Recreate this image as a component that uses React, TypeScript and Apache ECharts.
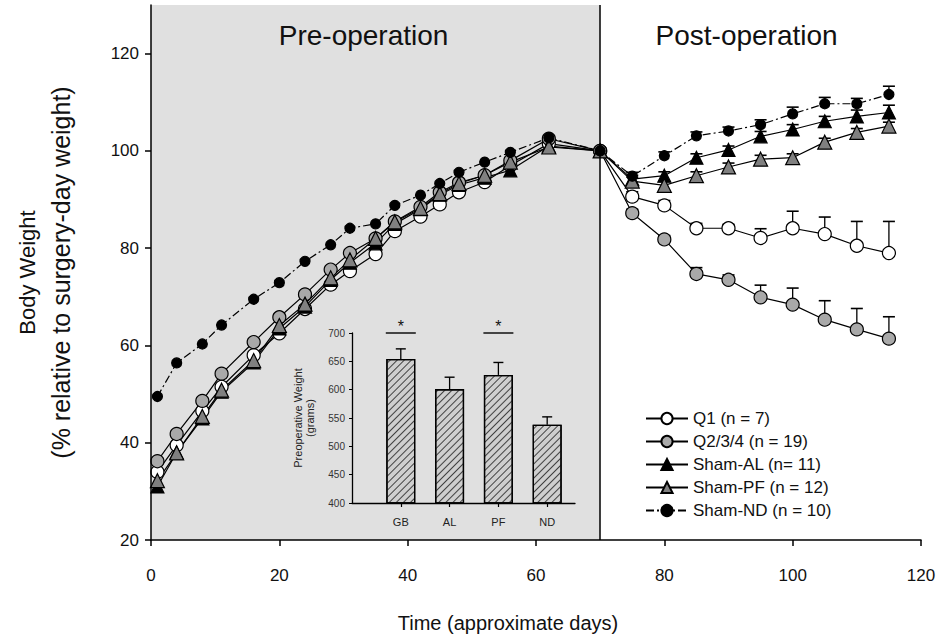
import React, { useEffect, useRef } from "react";
import * as echarts from "echarts";

// ---------- data ----------
const days = [1, 4, 8, 11, 16, 20, 24, 28, 31, 35, 38, 42, 45, 48, 52, 56, 62, 70, 75, 80, 85, 90, 95, 100, 105, 110, 115];
const q1 = [34, 39.5, 46.5, 51.5, 58, 62.5, 67.5, 72.5, 75.3, 78.8, 83.5, 86.5, 89, 91.5, 93.6, 97, 101.5, 100, 90.6, 88.8, 84.1, 84.1, 82.1, 84.1, 82.9, 80.5, 79.0];
const q2 = [36.2, 41.8, 48.6, 54.2, 60.7, 65.8, 70.5, 75.6, 79, 82, 85.5, 88.5, 91.5, 93.5, 95, 98, 102.5, 100, 87.2, 81.8, 74.7, 73.5, 69.9, 68.4, 65.3, 63.3, 61.4];
const shamAL = [31, 38, 45, 50.5, 56.5, 63.5, 68, 73.5, 77, 81, 85, 88, 91, 93, 94.5, 96, 101, 100, 94.2, 94.9, 98.6, 100.2, 103, 104.4, 106.1, 107.1, 107.9];
const shamPF = [32.2, 37.9, 45.4, 50.8, 56.9, 64.1, 68.5, 73.9, 77.6, 82, 85.4, 88.2, 91.2, 93.3, 95, 97.7, 100.8, 100, 93.8, 92.9, 94.9, 96.7, 98.3, 98.6, 101.8, 103.8, 105.1];
const shamND = [49.5, 56.4, 60.3, 64.2, 69.5, 72.9, 77.3, 80.7, 84.1, 85, 88.8, 90.9, 93.3, 95.6, 97.7, 99.7, 102.7, 100, 94.8, 99.0, 103.1, 104.1, 105.4, 107.6, 109.7, 109.7, 111.6];

// post-operation SEM (upper error only)
const postDays = [75, 80, 85, 90, 95, 100, 105, 110, 115];
const q1Err = [1, 1, 1, 0.8, 1.9, 3.5, 3.5, 5, 6.5];
const q2Err = [0.8, 0.8, 1.3, 1, 2.5, 3.4, 3.9, 4.3, 4.5];
const alErr = [0.8, 0.8, 0.8, 0.8, 1, 1, 1, 1.3, 1.5];
const pfErr = [0.8, 0.8, 0.8, 0.8, 0.8, 0.8, 0.8, 0.8, 0.8];
const ndErr = [0.8, 0.8, 0.8, 0.8, 1.0, 1.4, 1.3, 1.1, 1.7];

const seriesNames = ["Q1 (n = 7)", "Q2/3/4 (n = 19)", "Sham-AL (n= 11)", "Sham-PF (n = 12)", "Sham-ND (n = 10)"];

const xTicks = [0, 20, 40, 60, 80, 100, 120];
const yTicks = [20, 40, 60, 80, 100, 120];

// inset
const insetCats = ["GB", "AL", "PF", "ND"];
const insetValues = [654, 601, 626, 538];
const insetErr = [18, 21, 22, 14];
const insetSig = [1, 3]; // category positions with significance bar
const insetSigLevel = 700;
const insetTicks = [400, 450, 500, 550, 600, 650, 700];

const FONT = "'Liberation Sans', Arial, sans-serif";

function errData(values: number[], errs: number[]) {
  return postDays.map((d, i) => {
    const idx = days.indexOf(d);
    return [d, values[idx], values[idx] + errs[i]];
  });
}

function errorBarSeries(values: number[], errs: number[]) {
  return {
    type: "custom",
    xAxisIndex: 0,
    yAxisIndex: 0,
    z: 2,
    silent: true,
    encode: { x: 0, y: [1, 2] },
    data: errData(values, errs),
    renderItem: (_p: any, api: any) => {
      const x = api.value(0);
      const p0 = api.coord([x, api.value(1)]);
      const p1 = api.coord([x, api.value(2)]);
      const hw = 6;
      return {
        type: "group",
        children: [
          { type: "line", shape: { x1: p0[0], y1: p0[1], x2: p1[0], y2: p1[1] }, style: { stroke: "#000", lineWidth: 1.3 } },
          { type: "line", shape: { x1: p1[0] - hw, y1: p1[1], x2: p1[0] + hw, y2: p1[1] }, style: { stroke: "#000", lineWidth: 1.6 } },
        ],
      };
    },
  };
}

function lineSeries(name: string, values: number[], symbol: string, size: number, fill: string, dashed?: any) {
  return {
    name,
    type: "line",
    xAxisIndex: 0,
    yAxisIndex: 0,
    z: 3,
    data: days.map((d, i) => [d, values[i]]),
    symbol,
    symbolSize: size,
    showAllSymbol: true,
    itemStyle: { color: fill, borderColor: "#000", borderWidth: 1.2 },
    lineStyle: { color: "#000", width: 1.2, type: dashed || "solid" },
  };
}

export default function App() {
  const ref = useRef<HTMLDivElement>(null);
  useEffect(() => {
    document.body.style.margin = "0";
    const chart = echarts.init(ref.current!, null, { renderer: "svg" });
    const option: any = {
      animation: false,
      backgroundColor: "#fff",
      textStyle: { fontFamily: FONT },
      grid: [
        { left: 151, right: 30, top: 5, bottom: 95 },
        { left: 352, top: 333, width: 223, height: 170 },
      ],
      legend: {
        data: seriesNames,
        orient: "vertical",
        left: 640,
        top: 405,
        itemWidth: 42,
        itemHeight: 14,
        itemGap: 6,
        textStyle: { fontSize: 17, color: "#111", fontFamily: FONT },
        inactiveColor: "#999",
      },
      xAxis: [
        {
          type: "value",
          gridIndex: 0,
          z: 6,
          min: 0,
          max: 120,
          interval: 20,
          name: "Time (approximate days)",
          nameLocation: "middle",
          nameGap: 73,
          nameTextStyle: { fontSize: 20, color: "#111", fontFamily: FONT, padding: [0, 56, 0, 0] },
          axisLine: { show: true, onZero: false, lineStyle: { color: "#000", width: 1.5 } },
          axisTick: { show: true, length: 6, lineStyle: { color: "#000", width: 1.5 } },
          axisLabel: { fontSize: 17, color: "#111", margin: 27, customValues: xTicks },
          splitLine: { show: false },
        },
        {
          type: "value",
          gridIndex: 1,
          z: 6,
          min: 0,
          max: 4.57,
          interval: 1,
          axisLine: { show: true, onZero: false, lineStyle: { color: "#000", width: 1.3 } },
          axisTick: { show: true, length: 4, lineStyle: { color: "#000", width: 1.2 }, customValues: [1, 2, 3, 4] },
          axisLabel: {
            fontSize: 11,
            color: "#222",
            margin: 13,
            customValues: [1, 2, 3, 4],
            formatter: (v: number) => insetCats[Math.round(v) - 1] || "",
          },
          splitLine: { show: false },
        },
      ],
      yAxis: [
        {
          type: "value",
          gridIndex: 0,
          z: 6,
          min: 20,
          max: 130,
          interval: 20,
          name: "{a|Body Weight}\n{b|(% relative to surgery-day weight)}",
          nameLocation: "middle",
          nameRotate: 90,
          nameGap: 73,
          nameTextStyle: {
            color: "#111",
            fontFamily: FONT,
            rich: {
              a: { fontSize: 22, lineHeight: 34, color: "#111", fontFamily: FONT },
              b: { fontSize: 25, lineHeight: 34, color: "#111", fontFamily: FONT },
            },
          },
          axisLine: { show: true, onZero: false, lineStyle: { color: "#000", width: 1.5 } },
          axisTick: { show: true, length: 6, lineStyle: { color: "#000", width: 1.5 }, customValues: yTicks },
          axisLabel: { fontSize: 17, color: "#111", margin: 12, customValues: yTicks },
          splitLine: { show: false },
        },
        {
          type: "value",
          gridIndex: 1,
          z: 6,
          min: 400,
          max: 700,
          interval: 50,
          name: "Preoperative Weight\n(grams)",
          nameLocation: "middle",
          nameRotate: 90,
          nameGap: 36,
          nameTextStyle: { fontSize: 11, lineHeight: 12, color: "#222", fontFamily: FONT },
          axisLine: { show: true, onZero: false, lineStyle: { color: "#000", width: 1.3 } },
          axisTick: { show: true, length: 3, lineStyle: { color: "#000", width: 1 } },
          axisLabel: { fontSize: 10, color: "#333", margin: 7, customValues: insetTicks },
          splitLine: { show: false },
        },
      ],
      series: [
        {
          type: "line",
          xAxisIndex: 0,
          yAxisIndex: 0,
          z: 1,
          data: [],
          silent: true,
          markArea: {
            silent: true,
            data: [
              [
                {
                  xAxis: 0,
                  yAxis: 20,
                  itemStyle: { color: "#e0e0e0" },
                  label: { show: true, formatter: "Pre-operation", position: "insideTop", distance: 16, offset: [-12, 0], fontSize: 28, color: "#111", fontFamily: FONT },
                },
                { xAxis: 70, yAxis: 130 },
              ],
              [
                {
                  xAxis: 70,
                  yAxis: 20,
                  itemStyle: { color: "rgba(255,255,255,0)" },
                  label: { show: true, formatter: "Post-operation", position: "insideTop", distance: 16, offset: [-14, 0], fontSize: 28, color: "#111", fontFamily: FONT },
                },
                { xAxis: 120, yAxis: 130 },
              ],
            ],
          },
          markLine: {
            silent: true,
            symbol: "none",
            label: { show: false },
            lineStyle: { color: "#000", width: 1.5, type: "solid" },
            data: [{ xAxis: 70 }],
          },
        },
        errorBarSeries(q1, q1Err),
        errorBarSeries(q2, q2Err),
        errorBarSeries(shamAL, alErr),
        errorBarSeries(shamPF, pfErr),
        errorBarSeries(shamND, ndErr),
        lineSeries(seriesNames[0], q1, "circle", 13, "#ffffff"),
        lineSeries(seriesNames[1], q2, "circle", 13, "#a9a9a9"),
        lineSeries(seriesNames[2], shamAL, "triangle", 13, "#000000"),
        lineSeries(seriesNames[3], shamPF, "triangle", 14, "#808080"),
        lineSeries(seriesNames[4], shamND, "circle", 10, "#000000", [8, 3, 2, 3]),
        // inset bars
        {
          type: "bar",
          xAxisIndex: 1,
          yAxisIndex: 1,
          z: 4,
          barWidth: 29,
          data: insetCats.map((_c, i) => [i + 1, insetValues[i]]),
          itemStyle: {
            color: "#cfcfcf",
            borderColor: "#000",
            borderWidth: 1.3,
            decal: {
              symbol: "rect",
              symbolSize: 1,
              color: "rgba(40,40,40,0.85)",
              dashArrayX: [1, 0],
              dashArrayY: [1, 4],
              rotation: -Math.PI / 4,
            },
          },
        },
        {
          type: "custom",
          xAxisIndex: 1,
          yAxisIndex: 1,
          z: 4,
          silent: true,
          encode: { x: 0, y: [1, 2] },
          data: insetCats.map((_c, i) => [i + 1, insetValues[i], insetValues[i] + insetErr[i]]),
          renderItem: (_p: any, api: any) => {
            const x = api.value(0);
            const p0 = api.coord([x, api.value(1)]);
            const p1 = api.coord([x, api.value(2)]);
            const hw = 5;
            return {
              type: "group",
              children: [
                { type: "line", shape: { x1: p0[0], y1: p0[1], x2: p1[0], y2: p1[1] }, style: { stroke: "#000", lineWidth: 1.3 } },
                { type: "line", shape: { x1: p1[0] - hw, y1: p1[1], x2: p1[0] + hw, y2: p1[1] }, style: { stroke: "#000", lineWidth: 1.4 } },
              ],
            };
          },
        },
        {
          type: "custom",
          xAxisIndex: 1,
          yAxisIndex: 1,
          z: 4,
          silent: true,
          data: insetSig.map((c) => [c, insetSigLevel]),
          renderItem: (_p: any, api: any) => {
            const p = api.coord([api.value(0), api.value(1)]);
            const hw = 15;
            return {
              type: "group",
              children: [
                { type: "line", shape: { x1: p[0] - hw, y1: p[1], x2: p[0] + hw, y2: p[1] }, style: { stroke: "#000", lineWidth: 1.4 } },
                { type: "text", x: p[0], y: p[1] + 1, style: { text: "*", fill: "#111", align: "center", verticalAlign: "bottom", font: "16px " + FONT } },
              ],
            };
          },
        },
      ],
    };
    chart.setOption(option);
    return () => chart.dispose();
  }, []);
  return <div ref={ref} style={{ width: 951, height: 638 }} />;
}
